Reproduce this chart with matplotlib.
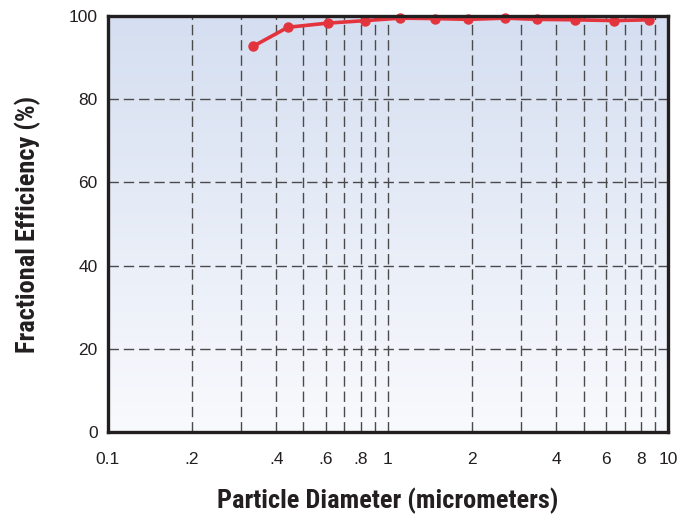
import matplotlib
matplotlib.use('Agg')
import matplotlib.pyplot as plt
from matplotlib.ticker import FixedLocator, NullLocator
import numpy as np

# particle diameter (micrometers) vs fractional efficiency (%)
diameter = [0.33, 0.44, 0.61, 0.83, 1.11, 1.47, 1.94, 2.63, 3.42, 4.67, 6.44, 8.53]
efficiency = [92.6, 97.2, 98.2, 98.8, 99.4, 99.3, 99.1, 99.4, 99.1, 99.0, 98.8, 99.0]

x_ticks = [0.1, 0.2, 0.4, 0.6, 0.8, 1, 2, 4, 6, 8, 10]
x_tick_labels = ['0.1', '.2', '.4', '.6', '.8', '1', '2', '4', '6', '8', '10']
x_grid = [0.2, 0.3, 0.4, 0.5, 0.6, 0.7, 0.8, 0.9, 1, 2, 3, 4, 5, 6, 7, 8, 9]
y_ticks = [0, 20, 40, 60, 80, 100]
y_grid = [20, 40, 60, 80]

fig = plt.figure(figsize=(6.83, 5.21), dpi=100)
ax = fig.add_axes([0.1574, 0.170, 0.8206, 0.800])

# background gradient, light blue at the top fading to near white
top = np.array([0.835, 0.873, 0.945])
bottom = np.array([0.975, 0.980, 0.992])
t = np.linspace(0, 1, 256)[:, None]
grad = (top * (1 - t) + bottom * t)[:, None, :]
ax.imshow(grad, extent=[0, 1, 0, 1], transform=ax.transAxes, aspect='auto', zorder=0)

ax.set_xscale('log')
ax.set_xlim(0.1, 10)
ax.set_ylim(0, 100)

for gx in x_grid:
    ax.axvline(gx, color='#4a4a4a', lw=1.0, linestyle=(0, (7.5, 3.5)), zorder=1)
for gy in y_grid:
    ax.axhline(gy, color='#4a4a4a', lw=1.0, linestyle=(0, (7.5, 3.5)), zorder=1)

ax.plot(diameter, efficiency, color='#e3343e', lw=2.6, marker='o', markersize=6.5,
        zorder=3, clip_on=False)

ax.xaxis.set_major_locator(FixedLocator(x_ticks))
ax.xaxis.set_minor_locator(NullLocator())
ax.set_xticklabels(x_tick_labels)
ax.set_yticks(y_ticks)
ax.tick_params(length=0, labelsize=12.5, colors='#231f20')
ax.tick_params(axis='x', pad=14)
ax.tick_params(axis='y', pad=7)
for lab in ax.get_xticklabels() + ax.get_yticklabels():
    lab.set_family(['Liberation Sans', 'DejaVu Sans'])

for sp in ax.spines.values():
    sp.set_linewidth(2.4)
    sp.set_color('#231f20')
    sp.set_zorder(4)

narrow = ['Roboto Condensed', 'DejaVu Sans']
ax.set_xlabel('Particle Diameter (micrometers)', family=narrow, fontweight='bold',
              fontsize=19, color='#231f20', labelpad=15)
ax.set_ylabel('Fractional Efficiency (%)', family=narrow, fontweight='bold',
              fontsize=19, color='#231f20', labelpad=20)

fig.savefig('out.png', dpi=100)
